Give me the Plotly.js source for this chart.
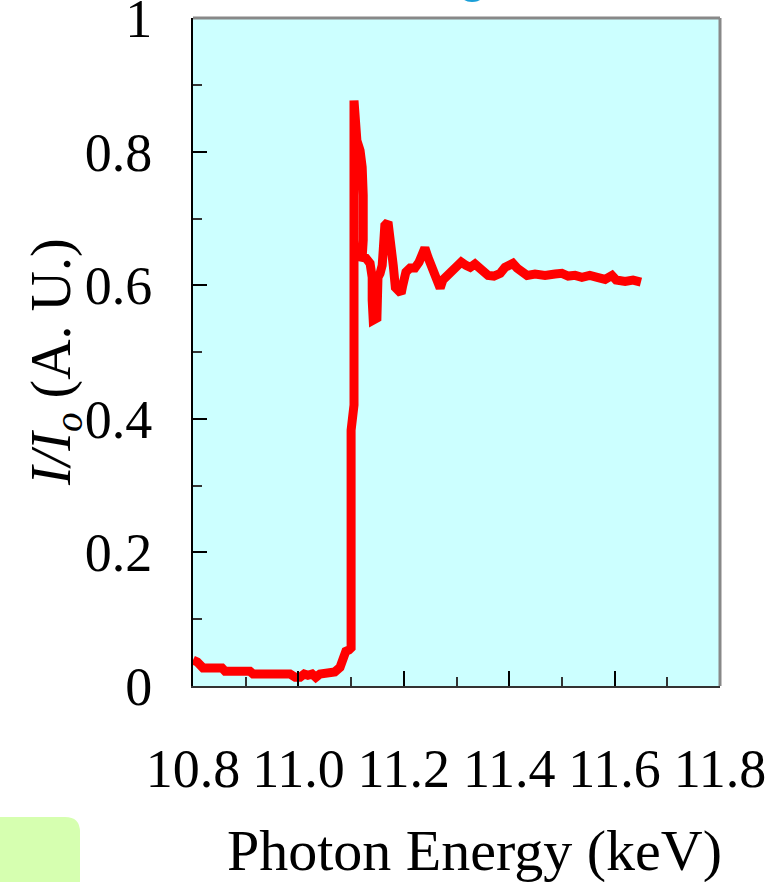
<!DOCTYPE html>
<html>
<head>
<meta charset="utf-8">
<script src="https://cdn.plot.ly/plotly-3.0.1.min.js"></script>
<style>
  html, body { margin: 0; padding: 0; background: #ffffff; }
  #chart { width: 781px; height: 882px; }
</style>
</head>
<body>
<div id="chart"></div>
<script>
// Absorption scan across the edge: photon energy (keV) vs normalised intensity
const energyKeV = [
  10.800, 10.808, 10.819, 10.842, 10.855, 10.861, 10.889, 10.908, 10.914, 10.946,
  10.984, 10.994, 11.003, 11.011, 11.018, 11.026, 11.033, 11.041, 11.056, 11.069,
  11.079, 11.085, 11.090, 11.096, 11.100, 11.100, 11.1055, 11.1055,
  11.111, 11.117, 11.121, 11.123, 11.124, 11.123, 11.121, 11.128, 11.136, 11.140,
  11.140, 11.142, 11.149, 11.149, 11.151, 11.155, 11.159, 11.161, 11.164, 11.170,
  11.174, 11.178, 11.180, 11.184, 11.189, 11.195, 11.198, 11.204, 11.212, 11.221,
  11.229, 11.235, 11.240, 11.246, 11.254, 11.261, 11.269, 11.274, 11.282, 11.291,
  11.299, 11.309, 11.318, 11.326, 11.335, 11.343, 11.350, 11.360, 11.371, 11.383,
  11.392, 11.402, 11.407, 11.415, 11.424, 11.434, 11.449, 11.468, 11.487, 11.500,
  11.512, 11.525, 11.538, 11.553, 11.567, 11.582, 11.595, 11.603, 11.620, 11.635,
  11.650
];
const intensity = [
  0.039, 0.036, 0.027, 0.027, 0.027, 0.022, 0.022, 0.022, 0.018, 0.018,
  0.018, 0.013, 0.013, 0.018, 0.016, 0.018, 0.013, 0.018, 0.018, 0.021,
  0.028, 0.039, 0.052, 0.054, 0.057, 0.383, 0.421, 0.877,
  0.817, 0.802, 0.777, 0.735, 0.702, 0.668, 0.642, 0.641, 0.633, 0.612,
  0.578, 0.548, 0.551, 0.567, 0.612, 0.618, 0.630, 0.653, 0.690, 0.695,
  0.675, 0.660, 0.630, 0.597, 0.590, 0.588, 0.600, 0.620, 0.626, 0.626,
  0.635, 0.648, 0.656, 0.642, 0.623, 0.611, 0.596, 0.608, 0.615, 0.623,
  0.629, 0.635, 0.630, 0.627, 0.632, 0.627, 0.620, 0.615, 0.614, 0.618,
  0.627, 0.632, 0.633, 0.626, 0.620, 0.615, 0.617, 0.615, 0.617, 0.618,
  0.614, 0.615, 0.612, 0.615, 0.612, 0.609, 0.615, 0.608, 0.606, 0.608,
  0.605
];

const xTickVals = [10.8, 11.0, 11.2, 11.4, 11.6, 11.8];
const xTickText = ['10.8', '11.0', '11.2', '11.4', '11.6', '11.8'];
const yTickVals = [0, 0.2, 0.4, 0.6, 0.8, 1];
const yTickText = ['0', '0.2', '0.4', '0.6', '0.8', '1'];

const xTitle = 'Photon Energy (keV)';
const yTitle = '<i>I/I</i><sub><i>o</i></sub> (A. U.)';

const serif = 'Liberation Serif, Times New Roman, serif';

const trace = {
  x: energyKeV,
  y: intensity,
  type: 'scatter',
  mode: 'lines',
  line: { color: '#ff0000', width: 9, shape: 'linear' },
  hoverinfo: 'x+y'
};

const layout = {
  width: 781,
  height: 882,
  margin: { l: 193, r: 61, t: 18, b: 196 },
  paper_bgcolor: '#ffffff',
  plot_bgcolor: '#ccffff',
  showlegend: false,
  font: { family: serif, color: '#000000' },
  xaxis: {
    range: [10.8, 11.8],
    tickvals: xTickVals,
    ticktext: xTickText,
    ticks: 'inside',
    ticklen: 15,
    tickwidth: 2,
    tickcolor: '#000000',
    minor: { dtick: 0.1, tick0: 10.8, ticks: 'inside', ticklen: 9, tickwidth: 2, tickcolor: '#333333' },
    showgrid: false,
    zeroline: false,
    showline: true,
    linecolor: '#333333',
    linewidth: 2,
    ticklabelstandoff: 34,
    ticklabeloverflow: 'allow',
    tickfont: { family: serif, size: 54, color: '#000000' },
    fixedrange: true
  },
  yaxis: {
    range: [0, 1.0005],
    tickvals: yTickVals,
    ticktext: yTickText,
    ticks: 'inside',
    ticklen: 14,
    tickwidth: 2,
    tickcolor: '#000000',
    minor: { dtick: 0.1, tick0: 0, ticks: 'inside', ticklen: 9, tickwidth: 2, tickcolor: '#333333' },
    showgrid: false,
    zeroline: false,
    showline: true,
    linecolor: '#000000',
    linewidth: 2,
    ticklabelstandoff: 28,
    ticklabeloverflow: 'allow',
    tickfont: { family: serif, size: 54, color: '#000000' },
    fixedrange: true
  },
  shapes: [
    // grey frame along the top and right of the plot area
    { type: 'line', xref: 'paper', yref: 'paper', x0: 0, x1: 1, y0: 1, y1: 1,
      line: { color: '#888888', width: 3 } },
    { type: 'line', xref: 'paper', yref: 'paper', x0: 1, x1: 1, y0: 0, y1: 1,
      line: { color: '#888888', width: 3 } },
    // rounded green tab in the lower-left corner
    { type: 'path', xref: 'paper', yref: 'paper', layer: 'below',
      path: 'M -0.37,-0.30 L -0.37,-0.1961 L -0.2429,-0.1961 Q -0.2144,-0.1961 -0.2144,-0.2186 L -0.2144,-0.30 Z',
      fillcolor: '#d6ffb0', line: { width: 0 } }
  ],
  annotations: [
    { text: xTitle, xref: 'paper', yref: 'paper', x: 0.534, y: -0.247,
      xanchor: 'center', yanchor: 'middle', showarrow: false,
      font: { family: serif, size: 58, color: '#000000' } },
    { text: yTitle, xref: 'paper', yref: 'paper', x: -0.262, y: 0.485,
      xanchor: 'center', yanchor: 'middle', showarrow: false, textangle: -90,
      font: { family: serif, size: 56, color: '#000000' } },
    { text: 'g', xref: 'paper', yref: 'paper', x: 0.531, y: 1.021,
      xanchor: 'center', yanchor: 'bottom', showarrow: false,
      font: { family: 'Liberation Sans, Arial, sans-serif', size: 56, color: '#1a9fd8' } }
  ]
};

Plotly.newPlot('chart', [trace], layout, { displayModeBar: false, staticPlot: true });
</script>
</body>
</html>
